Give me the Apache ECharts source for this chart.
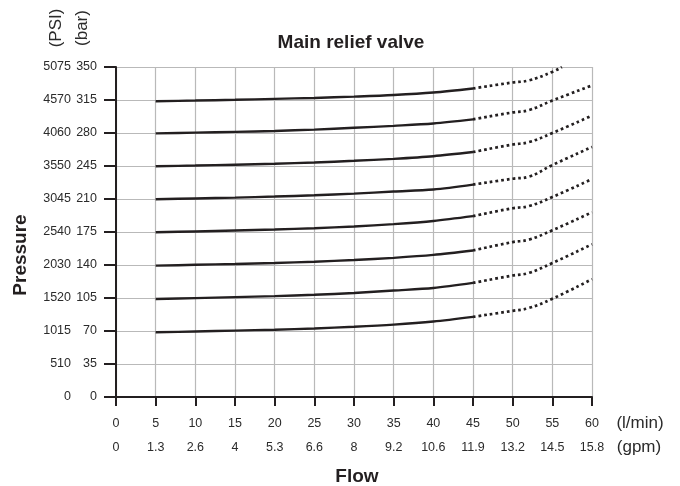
<!DOCTYPE html>
<html>
<head>
<meta charset="utf-8">
<script src="https://cdn.jsdelivr.net/npm/echarts@6/dist/echarts.min.js"></script>
<style>
  html, body { margin: 0; padding: 0; background: #ffffff; }
  #chart { width: 680px; height: 486px; }
</style>
</head>
<body>
<div id="chart"></div>
<script>
// Flow positions (l/min) for the measured part and the extrapolated part of each curve
const flowSolid = [5, 10, 15, 20, 25, 30, 35, 40, 45];
const flowDotted = [45, 50, 52, 55, 60];
const flowDottedTop = [45, 50, 52, 55, 56.2];

// Tick labels
const flowLminLabels = ['0', '5', '10', '15', '20', '25', '30', '35', '40', '45', '50', '55', '60'];
const flowGpmLabels = ['0', '1.3', '2.6', '4', '5.3', '6.6', '8', '9.2', '10.6', '11.9', '13.2', '14.5', '15.8'];
const pressureBarLabels = ['0', '35', '70', '105', '140', '175', '210', '245', '280', '315', '350'];
const pressurePsiLabels = ['0', '510', '1015', '1520', '2030', '2540', '3045', '3550', '4060', '4570', '5075'];

// Relief pressure (bar) against flow, one curve per valve setting
const set315Solid = [313.7, 314.4, 315.2, 316.2, 317.2, 318.6, 320.3, 322.9, 327.2];
const set315Dotted = [327.2, 333.6, 335.7, 344.8, 350];
const set280Solid = [279.6, 280.4, 281.2, 282.2, 283.6, 285.5, 287.6, 290.1, 294.5];
const set280Dotted = [294.5, 301.8, 304.2, 314.4, 330.4];
const set245Solid = [244.7, 245.5, 246.4, 247.4, 248.7, 250.5, 252.6, 255.4, 259.8];
const set245Dotted = [259.8, 267.8, 270.2, 280.0, 298.5];
const set210Solid = [209.7, 210.6, 211.5, 212.6, 213.9, 215.7, 217.9, 220.1, 225.3];
const set210Dotted = [225.3, 231.5, 233.6, 246.0, 265.2];
const set175Solid = [174.7, 175.6, 176.6, 177.7, 179.0, 180.9, 183.4, 186.7, 191.8];
const set175Dotted = [191.8, 200.2, 202.4, 212.1, 231.2];
const set140Solid = [139.3, 140.2, 141.1, 142.2, 143.5, 145.3, 147.6, 150.7, 155.4];
const set140Dotted = [155.4, 164.3, 166.8, 176.8, 196.0];
const set105Solid = [104.0, 104.9, 105.9, 107.0, 108.4, 110.3, 112.9, 115.6, 121.0];
const set105Dotted = [121.0, 128.9, 131.5, 142.1, 162.0];
const set70Solid = [68.6, 69.5, 70.4, 71.4, 72.7, 74.5, 76.8, 80.1, 85.0];
const set70Dotted = [85.0, 91.4, 94.3, 104.2, 125.0];

const INK = '#231f20';
const LABEL = '#2b2b2b';
const SANS = "'Liberation Sans', Arial, Helvetica, sans-serif";
const TICK_FONT = 12.5;

function pairs(xs, ys) {
  return xs.map(function (x, i) { return [x, ys[i]]; });
}

function solidSeries(ys) {
  return {
    type: 'line', xAxisIndex: 0, yAxisIndex: 0, smooth: 0.3, symbol: 'none', silent: true,
    lineStyle: { color: INK, width: 2.4 },
    data: pairs(flowSolid, ys), z: 5
  };
}

function dottedSeries(xs, ys) {
  return {
    type: 'line', xAxisIndex: 0, yAxisIndex: 0, smooth: 0.45, symbol: 'none', silent: true, clip: true,
    lineStyle: { color: INK, width: 2.7, type: [2.7, 3], cap: 'butt' },
    data: pairs(xs, ys), z: 5
  };
}

const curves = [
  [set315Solid, set315Dotted, flowDottedTop],
  [set280Solid, set280Dotted, flowDotted],
  [set245Solid, set245Dotted, flowDotted],
  [set210Solid, set210Dotted, flowDotted],
  [set175Solid, set175Dotted, flowDotted],
  [set140Solid, set140Dotted, flowDotted],
  [set105Solid, set105Dotted, flowDotted],
  [set70Solid, set70Dotted, flowDotted]
];

const series = [];
curves.forEach(function (c) {
  series.push(solidSeries(c[0]));
  series.push(dottedSeries(c[2], c[1]));
});

const gridLine = { show: true, lineStyle: { color: '#b9b9b9', width: 1.2 } };

const chart = echarts.init(document.getElementById('chart'), null, { renderer: 'canvas' });
chart.setOption({
  animation: false,
  backgroundColor: '#ffffff',
  title: {
    text: 'Main relief valve',
    left: 346, top: 28, textAlign: 'center',
    textStyle: { fontFamily: SANS, fontWeight: 'bold', fontSize: 19, color: INK }
  },
  grid: { left: 116, right: 88, top: 67, bottom: 89, containLabel: false },
  xAxis: [
    {
      type: 'value', min: 0, max: 60, interval: 5, position: 'bottom',
      axisLine: { show: true, onZero: false, lineStyle: { color: INK, width: 2 } },
      axisTick: { show: true, length: 9, lineStyle: { color: INK, width: 2 } },
      axisLabel: {
        margin: 20, color: LABEL, fontFamily: SANS, fontSize: TICK_FONT,
        formatter: function (v) { return flowLminLabels[Math.round(v / 5)]; }
      },
      splitLine: gridLine
    },
    {
      type: 'value', min: 0, max: 60, interval: 5, position: 'bottom',
      axisLine: { show: false }, axisTick: { show: false }, splitLine: { show: false },
      axisLabel: {
        margin: 44, color: LABEL, fontFamily: SANS, fontSize: TICK_FONT,
        formatter: function (v) { return flowGpmLabels[Math.round(v / 5)]; }
      }
    }
  ],
  yAxis: [
    {
      type: 'value', min: 0, max: 350, interval: 35, position: 'left',
      axisLine: { show: true, onZero: false, lineStyle: { color: INK, width: 2 } },
      axisTick: { show: true, length: 12, lineStyle: { color: INK, width: 2 } },
      axisLabel: {
        margin: 19, color: LABEL, fontFamily: SANS, fontSize: TICK_FONT,
        formatter: function (v) { return pressureBarLabels[Math.round(v / 35)]; }
      },
      splitLine: gridLine
    },
    {
      type: 'value', min: 0, max: 350, interval: 35, position: 'left',
      axisLine: { show: false }, axisTick: { show: false }, splitLine: { show: false },
      axisLabel: {
        margin: 45, color: LABEL, fontFamily: SANS, fontSize: TICK_FONT,
        formatter: function (v) { return pressurePsiLabels[Math.round(v / 35)]; }
      }
    }
  ],
  graphic: [
    { type: 'text', x: 56, y: 28, rotation: Math.PI / 2,
      style: { text: '(PSI)', font: '17px ' + SANS, fill: LABEL, align: 'center', verticalAlign: 'middle' } },
    { type: 'text', x: 82, y: 28, rotation: Math.PI / 2,
      style: { text: '(bar)', font: '17px ' + SANS, fill: LABEL, align: 'center', verticalAlign: 'middle' } },
    { type: 'text', x: 21, y: 255, rotation: Math.PI / 2,
      style: { text: 'Pressure', font: 'bold 19px ' + SANS, fill: INK, align: 'center', verticalAlign: 'middle' } },
    { type: 'text', x: 640, y: 423,
      style: { text: '(l/min)', font: '17px ' + SANS, fill: LABEL, align: 'center', verticalAlign: 'middle' } },
    { type: 'text', x: 639, y: 447,
      style: { text: '(gpm)', font: '17px ' + SANS, fill: LABEL, align: 'center', verticalAlign: 'middle' } },
    { type: 'text', x: 357, y: 477,
      style: { text: 'Flow', font: 'bold 19px ' + SANS, fill: INK, align: 'center', verticalAlign: 'middle' } }
  ],
  series: series
});
</script>
</body>
</html>
